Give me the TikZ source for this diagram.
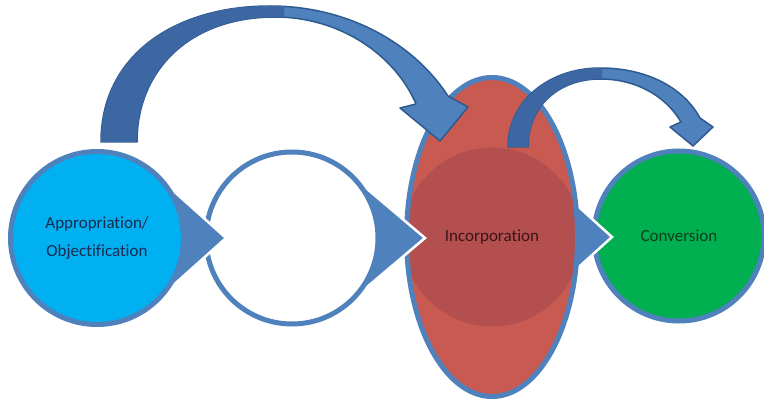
\documentclass[tikz,border=0pt]{standalone}
\usepackage{fontspec}
\setmainfont{Carlito}[RawFeature={-liga;-dlig;-clig}]
\usetikzlibrary{shapes.geometric,calc}

\definecolor{steel}{HTML}{4F81BD}
\definecolor{cyanfill}{HTML}{00B0F0}
\definecolor{greenfill}{HTML}{00B050}
\definecolor{redfill}{HTML}{C85A52}
\definecolor{reddark}{HTML}{B44F4F}
\definecolor{arrowlight}{HTML}{4F81BD}
\definecolor{arrowdark}{HTML}{3C67A3}
\definecolor{arrowline}{HTML}{2F5A8E}
\definecolor{txtblue}{HTML}{1A2B50}
\definecolor{txtred}{HTML}{3B1414}
\definecolor{txtgreen}{HTML}{0E3D1F}

\tikzset{
  stage/.style={circle, draw=steel, line width=5pt, inner sep=0pt,
    minimum size=172pt, align=center, font=\fontsize{17}{28}\selectfont},
  pointer/.style={fill=steel, draw=white, line width=2.5pt, line join=miter},
  bend light/.style={fill=arrowlight, draw=arrowline, line width=1.5pt, line join=round},
  bend dark/.style={fill=arrowdark},
}

\begin{document}
\begin{tikzpicture}[x=1pt, y=-1pt]
  \fill[white] (0,0) rectangle (764,406);
  \useasboundingbox (0,0) rectangle (764,406);

  % centres of the four stages
  \coordinate (cA) at (97,238);
  \coordinate (cB) at (292,238);
  \coordinate (cC) at (492,237);
  \coordinate (cD) at (679,236);

  % Conversion
  \node[stage, fill=greenfill, minimum size=170pt, text=txtgreen] (conv) at (cD) {Conversion};

  % pointer of Incorporation into Conversion
  \path[pointer] ($(cC)+(68,-47)$) -- ($(cC)+(120,0)$) -- ($(cC)+(68,47)$) -- cycle;

  % Incorporation: ellipse with a darker central disc
  \fill[redfill] (cC) ellipse (85.5 and 159.5);
  \begin{scope}
    \clip (cC) ellipse (85.5 and 159.5);
    \fill[reddark] (cC) circle (89.5);
  \end{scope}
  \node[ellipse, draw=steel, line width=5pt, inner sep=0pt,
        minimum width=171pt, minimum height=319pt,
        font=\fontsize{17}{28}\selectfont, text=txtred] (inc) at (cC) {Incorporation};

  % pointer of the empty stage into Incorporation
  \path[pointer] ($(cB)+(55,-66)$) -- ($(cB)+(133,0)$) -- ($(cB)+(55,66)$) -- cycle;

  % empty stage
  \node[stage, fill=white] (blank) at (cB) {};

  % pointer of Appropriation into the empty stage
  \path[pointer] ($(cA)+(57.5,-64)$) -- ($(cA)+(129,0)$) -- ($(cA)+(57.5,64)$) -- cycle;

  % Appropriation / Objectification
  \node[stage, fill=cyanfill, minimum size=173pt, text=txtblue] (appr) at (cA)
    {Appropriation/\\Objectification};

  % large curved arrow: Appropriation -> Incorporation
  \path[bend light] (101,142) .. controls (101,55) and (175,6) .. (270,6)
      .. controls (350,6) and (415,45) .. (448,96)
      -- (468,107) -- (440,141) -- (400,108) -- (416,104)
      .. controls (395,55) and (340,17) .. (275,17)
      .. controls (190,17) and (137,70) .. (137,142) -- cycle;
  \begin{scope}
    \clip (0,0) rectangle (284,160);
    \fill[bend dark] (101,142) .. controls (101,55) and (175,6) .. (270,6)
      .. controls (350,6) and (415,45) .. (448,96)
      -- (468,107) -- (440,141) -- (400,108) -- (416,104)
      .. controls (395,55) and (340,17) .. (275,17)
      .. controls (190,17) and (137,70) .. (137,142) -- cycle;
  \end{scope}

  % small curved arrow: Incorporation -> Conversion
  \path[bend light] (508,147) .. controls (508,100) and (550,68) .. (600,68)
      .. controls (650,68) and (685,90) .. (700,118)
      -- (713,127) -- (693,146) -- (670,127) -- (681,122)
      .. controls (665,95) and (635,79) .. (600,79)
      .. controls (560,79) and (528,105) .. (528,147) -- cycle;
  \begin{scope}
    \clip (480,40) rectangle (602,160);
    \fill[bend dark] (508,147) .. controls (508,100) and (550,68) .. (600,68)
      .. controls (650,68) and (685,90) .. (700,118)
      -- (713,127) -- (693,146) -- (670,127) -- (681,122)
      .. controls (665,95) and (635,79) .. (600,79)
      .. controls (560,79) and (528,105) .. (528,147) -- cycle;
  \end{scope}
\end{tikzpicture}
\end{document}
